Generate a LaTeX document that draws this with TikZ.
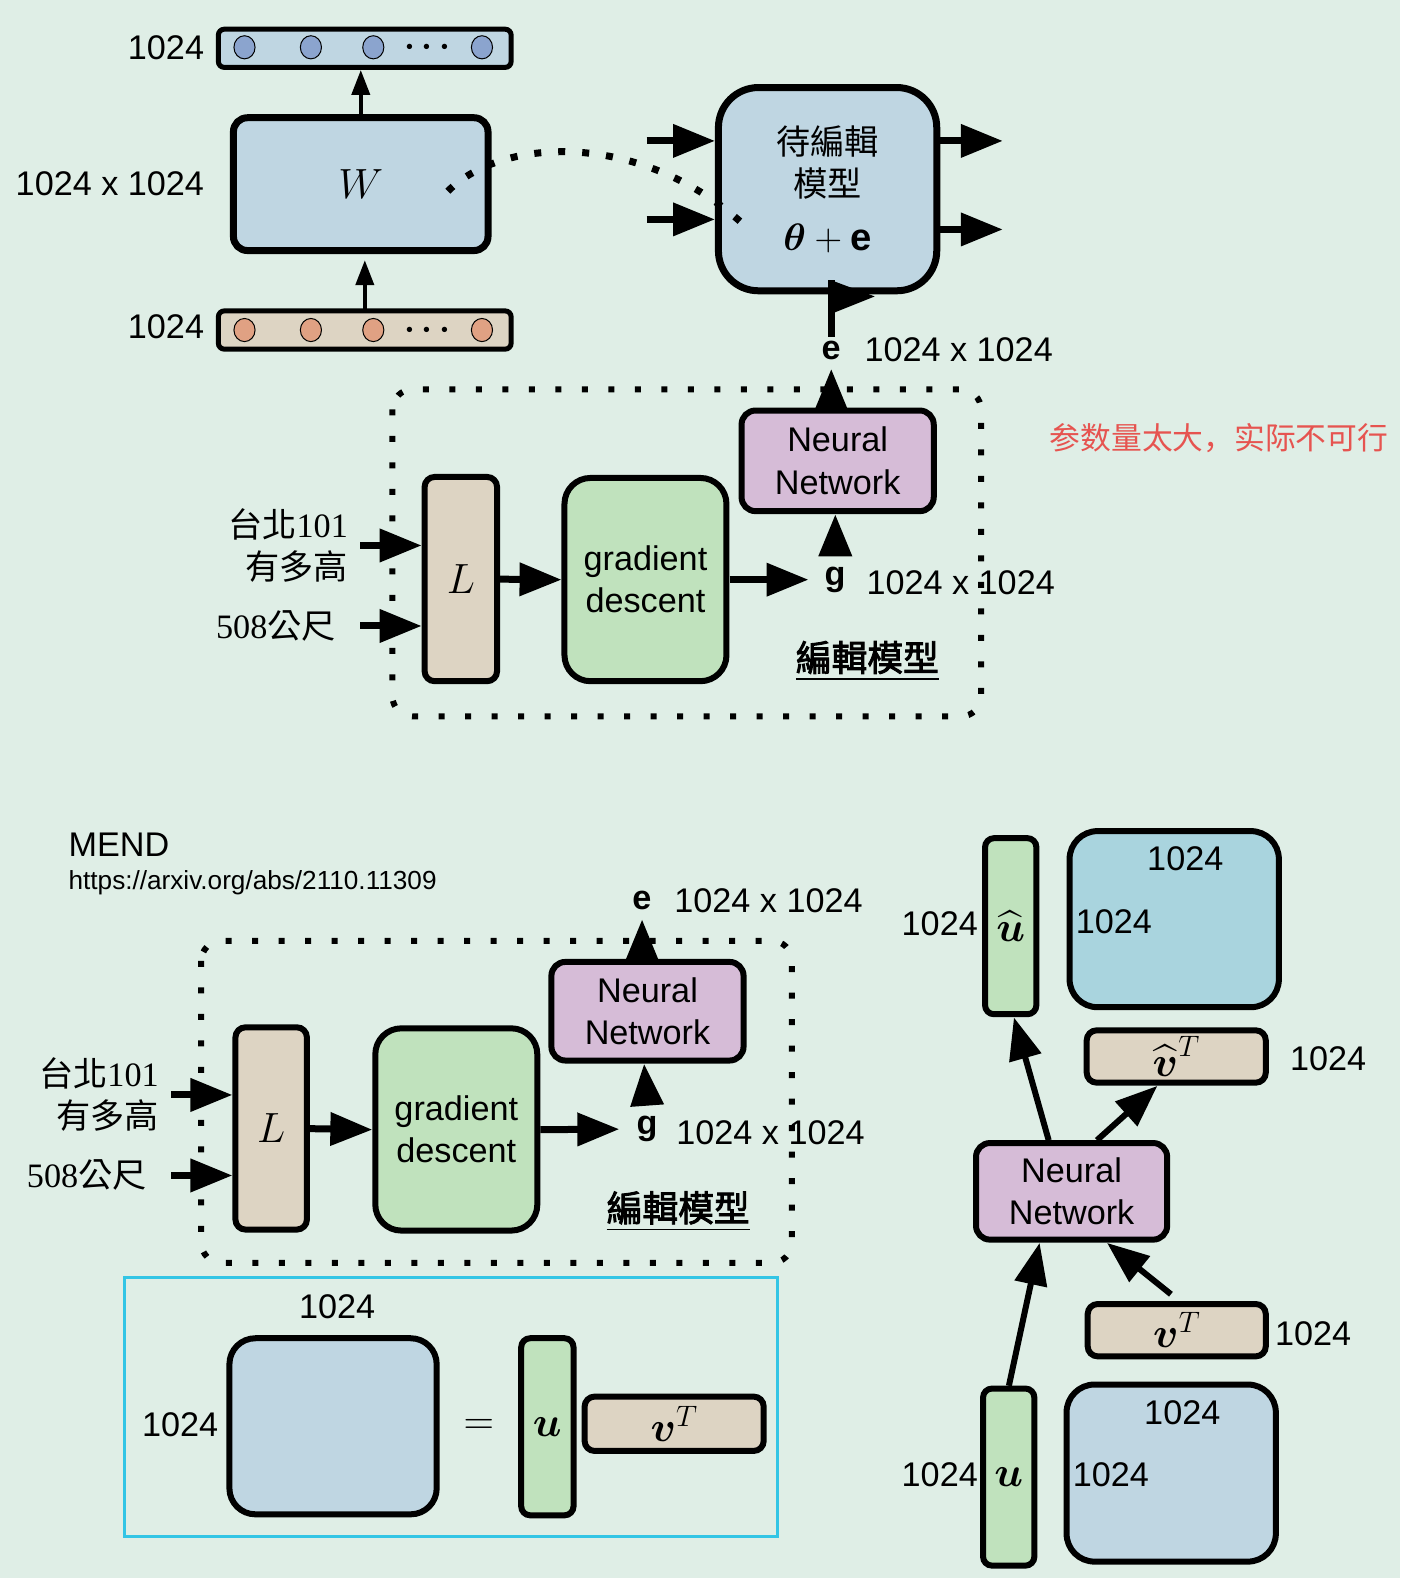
\RequirePackage{fix-cm}
\documentclass[tikz,border=0pt]{standalone}
\usepackage{amsmath}
\usepackage{amssymb}
\usepackage{fontspec}
\setmainfont{Liberation Sans}
\newfontfamily\cjk{Noto Sans CJK TC}
\newfontfamily\cjkbold[FakeBold=2.5]{Noto Sans CJK TC}
\newfontfamily\cjksc{Noto Sans CJK SC}
\newfontfamily\numserif{Liberation Serif}
\newcommand\mathsz{\fontsize{42}{44}\selectfont}
\usetikzlibrary{arrows.meta,calc,positioning,shapes.geometric}
\definecolor{BGMint}{HTML}{DFEEE6}
\definecolor{WBlue}{HTML}{BFD6E2}
\definecolor{LTan}{HTML}{DDD4C3}
\definecolor{GDGreen}{HTML}{C0E2BD}
\definecolor{NNPurple}{HTML}{D6BCD7}
\definecolor{MTeal}{HTML}{A9D4DE}
\definecolor{FrameCyan}{HTML}{33C5E5}
\definecolor{NoteRed}{HTML}{E65450}
\definecolor{DotBlue}{HTML}{8BA4CE}
\definecolor{DotOrange}{HTML}{E0A183}

\begin{document}
\begin{tikzpicture}[x=1pt,y=-1pt,scale=1.0062,transform shape,
        every node/.style={font=\fontsize{34}{42}\selectfont, inner sep=0pt},
        blk/.style={draw, line width=6pt, rounded corners=14pt, align=center},
        vec/.style={draw, line width=5pt, rounded corners=6pt, minimum width=291pt, minimum height=38pt},
        ball/.style={ellipse, draw, line width=1pt, minimum width=21pt, minimum height=23pt},
        fatarr/.style={line width=7pt, -{Triangle[length=42pt,width=32pt]}},
        slimarr/.style={line width=4pt, -{Triangle[length=25pt,width=18pt]}},
        dotframe/.style={line width=6pt, dash pattern=on 6pt off 20.5pt, rounded corners=20pt},
        dotcurve/.style={line width=7pt, dash pattern=on 7pt off 17pt}]
        \fill[BGMint] (0,0) rectangle (1391.4,1568.3);
        \useasboundingbox (0,0) rectangle (1391.4,1568.3);
        % W and the model to edit
        \node[vec, fill=WBlue] (outv) at (362.5,48) {};
        \foreach \cx in {243,309,371,479} \node[ball, fill=DotBlue] (ob\cx) at (\cx,47) {};
        \node (odots) at (428,47) {$\boldsymbol{\cdots}$};
        \node[anchor=east] (osz) at (203,47) {1024};
        \node[blk, line width=7pt, fill=WBlue, minimum width=253pt, minimum height=132pt] (W) at (358.5,183) {\mathsz$W$};
        \node[anchor=east] (wsz) at (203,183) {1024 x 1024};
        \node[vec, fill=LTan] (inv) at (362.5,328) {};
        \foreach \cx in {243,309,371,479} \node[ball, fill=DotOrange] (ib\cx) at (\cx,328) {};
        \node (idots) at (428,328) {$\boldsymbol{\cdots}$};
        \node[anchor=east] (isz) at (203,325) {1024};
        \draw[slimarr] ([yshift=-3pt]inv.north) -- ([yshift=-6pt]inv.north |- W.south);
        \draw[slimarr] (W.north) -- (W.north |- outv.south);
        \node[blk, line width=7pt, rounded corners=40pt, fill=WBlue, minimum width=217pt, minimum height=202pt] (edit) at (822.5,188) {{\cjk 待編輯}\\{\cjk 模型}\\[11pt]{\fontsize{38}{42}\selectfont$\boldsymbol{\theta}+\mathbf{e}$}};
        \draw[fatarr] ([xshift=-68pt,yshift=48pt]edit.west) -- ([yshift=48pt]edit.west);
        \draw[fatarr] ([xshift=-68pt,yshift=-30pt]edit.west) -- ([yshift=-30pt]edit.west);
        \draw[fatarr] ([yshift=48pt]edit.east) -- ++(62,0);
        \draw[fatarr] ([yshift=-40pt]edit.east) -- ++(62,0);
        \coordinate (wdot) at (445,190);
        \coordinate (edot) at (742,226);
        \draw[dotcurve] (wdot) .. controls (500,135) and (640,130) .. (edot);
        % first editor
        \draw[dotframe] (390,387) rectangle (975,712);
        \node[blk, fill=NNPurple, minimum width=191pt, minimum height=100pt] (nnA) at (832.5,458) {Neural\\Network};
        \node[blk, rounded corners=10pt, fill=LTan, minimum width=72pt, minimum height=203pt] (lA) at (458,575.5) {\mathsz$L$};
        \node[blk, rounded corners=26pt, fill=GDGreen, minimum width=161pt, minimum height=202pt] (gdA) at (641.5,576) {gradient\\descent};
        \node (gA) at (830,576) {\textbf{g}};
        \node[anchor=west] (gszA) at (861,579) {1024 x 1024};
        \node (eA) at (826,348) {\textbf{e}};
        \node[anchor=west] (eszA) at (859,348) {1024 x 1024};
        \node[anchor=east, align=right] (qA) at (346,542) {{\cjk 台北}{\numserif 101}\\{\cjk 有多高}};
        \node[anchor=east] (aA) at (334,622) {{\numserif 508}{\cjk 公尺}};
        \node[font=\cjkbold\fontsize{35.5}{42}\selectfont] (tagA) at (862,657) {\underline{編輯模型}};
        \node[anchor=west, text=NoteRed, font=\cjksc\fontsize{30.6}{36}\selectfont] (note) at (1043,435) {参数量太大，实际不可行};
        \draw[fatarr] ([xshift=12pt]qA.east) -- (qA.east -| lA.west);
        \draw[fatarr] ([xshift=24pt]aA.east) -- (aA.east -| lA.west);
        \draw[fatarr] (lA.east) -- (gdA.west);
        \draw[fatarr] (gdA.east) -- ([xshift=-16pt]gA.west);
        \draw[fatarr] ([yshift=12pt]gA.north) -- (gA.north |- nnA.south);
        \draw[fatarr] (eA.south |- nnA.north) -- ([yshift=-9pt]eA.south);
        \draw[line width=7pt] ([yshift=4pt]eA.north) -- ([yshift=14pt]eA.north |- edit.south) coordinate (ftip);
        \fill (ftip) -- ++(43,16) -- ++(-40,16) -- cycle;
        % MEND
        \node[anchor=west] (mend) at (68,840) {MEND};
        \node[anchor=west, font=\fontsize{26}{30}\selectfont] (url) at (68,877) {https://arxiv.org/abs/2110.11309};
        \draw[dotframe] (200,935) rectangle (787,1255);
        \node[blk, fill=NNPurple, minimum width=191pt, minimum height=98pt] (nnB) at (643.5,1005) {Neural\\Network};
        \node[blk, rounded corners=10pt, fill=LTan, minimum width=71pt, minimum height=201pt] (lB) at (269.5,1121.5) {\mathsz$L$};
        \node[blk, rounded corners=26pt, fill=GDGreen, minimum width=161pt, minimum height=201pt] (gdB) at (453.5,1122.5) {gradient\\descent};
        \node (gB) at (643,1122) {\textbf{g}};
        \node[anchor=west] (gszB) at (672,1126) {1024 x 1024};
        \node (eB) at (638,895) {\textbf{e}};
        \node[anchor=west] (eszB) at (670,895) {1024 x 1024};
        \node[anchor=east, align=right] (qB) at (158,1088) {{\cjk 台北}{\numserif 101}\\{\cjk 有多高}};
        \node[anchor=east] (aB) at (146,1168) {{\numserif 508}{\cjk 公尺}};
        \node[font=\cjkbold\fontsize{35.5}{42}\selectfont] (tagB) at (674,1204) {\underline{編輯模型}};
        \draw[fatarr] ([xshift=12pt]qB.east) -- (qB.east -| lB.west);
        \draw[fatarr] ([xshift=24pt]aB.east) -- (aB.east -| lB.west);
        \draw[fatarr] (lB.east) -- (gdB.west);
        \draw[fatarr] (gdB.east) -- ([xshift=-17pt]gB.west);
        \draw[fatarr] ([yshift=11pt]gB.north) -- ([xshift=-3pt]gB.north |- nnB.south);
        \draw[fatarr] (eB.south |- nnB.north) -- ([yshift=-9pt]eB.south);
        % low rank
        \draw[FrameCyan, line width=3pt] (124,1270) rectangle (773,1527);
        \node[blk, rounded corners=26pt, fill=WBlue, minimum width=206pt, minimum height=175pt] (bigM) at (331,1417.5) {};
        \node (mszT) at (335,1299) {1024};
        \node[anchor=east] (mszL) at (217,1416) {1024};
        \node (eq) at (476,1418) {\mathsz$=$};
        \node[blk, rounded corners=9pt, fill=GDGreen, minimum width=52pt, minimum height=176pt] (uC) at (544,1418) {\mathsz$\boldsymbol{u}$};
        \node[blk, rounded corners=10pt, fill=LTan, minimum width=178pt, minimum height=54pt] (vC) at (670,1415) {\mathsz$\boldsymbol{v}^T$};
        % right column
        \node[blk, rounded corners=9pt, fill=GDGreen, minimum width=51pt, minimum height=175pt] (uhat) at (1004.5,920.5) {\mathsz$\widehat{\boldsymbol{u}}$};
        \node[anchor=east] (uhsz) at (972,918) {1024};
        \node[blk, rounded corners=28pt, fill=MTeal, minimum width=208pt, minimum height=175pt] (mT) at (1167,913.5) {};
        \node (mTt) at (1178,853) {1024};
        \node[anchor=west] (mTl) at (1069,916) {1024};
        \node[blk, rounded corners=10pt, fill=LTan, minimum width=178pt, minimum height=52pt] (vhat) at (1169,1050) {\mathsz$\widehat{\boldsymbol{v}}^T$};
        \node[anchor=west] (vhsz) at (1282,1052) {1024};
        \node[blk, fill=NNPurple, minimum width=190pt, minimum height=96pt] (nnC) at (1065,1184) {Neural\\Network};
        \node[blk, rounded corners=10pt, fill=LTan, minimum width=177pt, minimum height=52pt] (vR) at (1169.5,1322) {\mathsz$\boldsymbol{v}^T$};
        \node[anchor=west] (vRsz) at (1267,1326) {1024};
        \node[blk, rounded corners=9pt, fill=GDGreen, minimum width=51pt, minimum height=176pt] (uR) at (1002.5,1468) {\mathsz$\boldsymbol{u}$};
        \node[anchor=east] (uRsz) at (972,1466) {1024};
        \node[blk, rounded corners=28pt, fill=WBlue, minimum width=208pt, minimum height=176pt] (mR) at (1164,1464) {};
        \node (mRt) at (1175,1404) {1024};
        \node[anchor=west] (mRl) at (1066,1466) {1024};
        \draw[fatarr, line width=6pt] ([xshift=-23pt]nnC.north) -- ([xshift=3pt]uhat.south);
        \draw[fatarr, line width=6pt] ([xshift=25pt]nnC.north) -- ([xshift=-19pt]vhat.south);
        \draw[fatarr, line width=6pt] (uR.north) -- ([xshift=-32pt]nnC.south);
        \draw[fatarr, line width=6pt] ([xshift=-6pt,yshift=7pt]vR.north) -- ([xshift=35pt]nnC.south);
\end{tikzpicture}
\end{document}
